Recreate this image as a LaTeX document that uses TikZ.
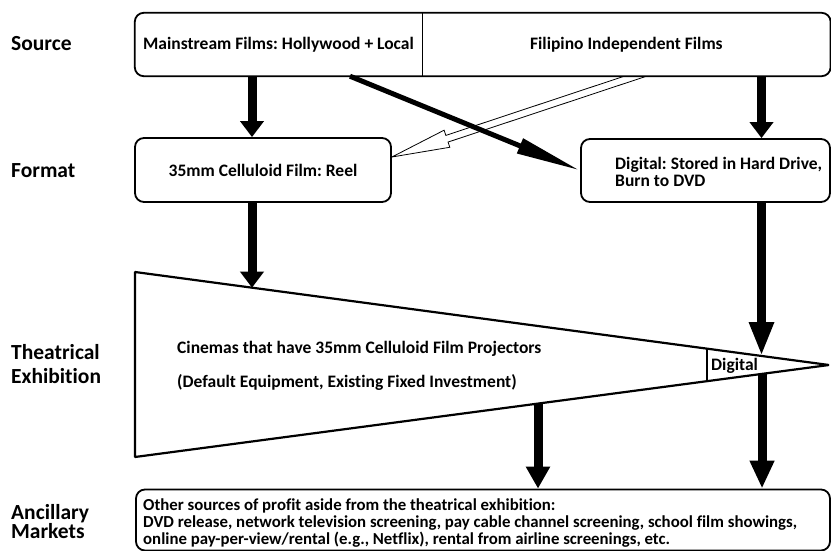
\documentclass[tikz,border=0pt]{standalone}
\usepackage{fontspec}
\setmainfont{Carlito}[Ligatures=NoCommon]
\usepackage{tikz}
\usetikzlibrary{positioning,calc,arrows.meta,backgrounds}
\frenchspacing

\tikzset{
  stage/.style={font=\fontsize{21.5}{24}\selectfont\bfseries, anchor=base west, inner sep=0pt, align=left},
  boxtext/.style={font=\fontsize{17.5}{17.5}\selectfont\bfseries},
  roundbox/.style={draw, line width=1.8pt, rounded corners=9pt},
  fatarrow/.style={line width=9pt, -{Triangle[width=23pt,length=#1]}},
  fatarrow/.default=16pt,
}

\begin{document}
\begin{tikzpicture}[x=1pt,y=-1pt]
    \useasboundingbox (0,0) rectangle (831,551);

    % stage labels (base = last line)
    \node[stage] (source) at (11,51) {Source};
    \node[stage] (format) at (11,177) {Format};
    \node[stage] (theatrical) at (11,383) {Theatrical\\Exhibition};
    \node[stage, font=\fontsize{21.5}{19.5}\selectfont\bfseries] (ancillary) at (11,538.5) {Ancillary\\Markets};

    % source row
    \node[boxtext, minimum width=287pt, minimum height=63pt, inner sep=0pt] (mainstream) at (278.5,44.5) {Mainstream Films: Hollywood + Local};
    \node[boxtext, minimum width=408pt, minimum height=63pt, inner sep=0pt, right=0pt of mainstream] (indie) {Filipino Independent Films};
    \draw[roundbox] (mainstream.north west) rectangle (indie.south east);
    \draw[line width=1.4pt] (mainstream.north east) -- (mainstream.south east);

    % format row
    \node[roundbox, boxtext, fill=white, minimum width=256pt, minimum height=64pt] (reel) at (263,170) {35mm Celluloid Film: Reel};
    \node[roundbox, fill=white, minimum width=249pt, minimum height=63pt] (digital) at (705.5,170.5) {};
    \node[boxtext, align=left, anchor=base west, inner sep=0pt] (digitaltext) at (615,186.7) {Digital: Stored in Hard Drive,\\Burn to DVD};

    % hollow arrow, under the boxes
    \coordinate (hs) at ([xshift=9pt]indie.south);
    \coordinate (ht) at ([yshift=13pt]reel.east);
    \coordinate (hs0) at ($(hs)!-12pt!(ht)$);
    \coordinate (hb) at ($(ht)!58pt!(hs)$);
    \begin{scope}[on background layer]
        \draw[line width=0.8pt, fill=white] ($(hs0)!3.5pt!90:(ht)$) -- ($(hb)!3.5pt!90:(ht)$)
            -- ($(hb)!9pt!90:(ht)$) -- (ht) -- ($(hb)!9pt!-90:(ht)$)
            -- ($(hb)!3.5pt!-90:(ht)$) -- ($(hs0)!3.5pt!-90:(ht)$);
        \fill[white, rounded corners=9pt] (mainstream.north west) rectangle (indie.south east);
    \end{scope}

    % cinemas
    \coordinate (tl) at (135,272);
    \coordinate (bl) at (135,457);
    \coordinate (tip) at (829,365);
    \draw[line width=2.2pt, line join=bevel] (tl) -- (tip) -- (bl) -- cycle;
    \draw[line width=1.4pt] ($(tl)!0.824!(tip)$) -- ($(bl)!0.824!(tip)$);
    \node[boxtext, anchor=base west, inner sep=0pt] (cinemas) at (177,353) {Cinemas that have 35mm Celluloid Film Projectors};
    \node[boxtext, anchor=base west, inner sep=0pt] (cinemanote) at (177,387) {(Default Equipment, Existing Fixed Investment)};
    \node[boxtext, anchor=base west, inner sep=0pt] (digitalcinema) at (711,370) {Digital};

    % ancillary markets
    \node[roundbox, minimum width=694pt, minimum height=61pt] (ancbox) at (483,520) {};
    \node[boxtext, font=\fontsize{16.8}{17}\selectfont\bfseries, align=left, anchor=base west, inner sep=0pt] (anctext) at (143,544.5)
        {Other sources of profit aside from the theatrical exhibition:\\
         DVD release, network television screening, pay cable channel screening, school film showings,\\
         online pay-per-view/rental (e.g., Netflix), rental from airline screenings, etc.};

    % arrows
    \coordinate (e1) at ($(tl)!0.1686!(tip)$);
    \coordinate (e2) at ($(tl)!0.9035!(tip)$);
    \coordinate (e3) at ($(bl)!0.9035!(tip)$);
    \coordinate (e4) at ($(bl)!0.5807!(tip)$);
    \draw[fatarrow] ([xshift=-11pt]reel.north |- mainstream.south) -- ([xshift=-11pt]reel.north);
    \draw[fatarrow] ([xshift=56pt]digital.north |- indie.south) -- ([xshift=56pt]digital.north);
    \draw[fatarrow] ([xshift=-11pt]reel.south) -- ([xshift=-11pt]reel.south |- e1);
    \draw[fatarrow=34pt] ([xshift=56pt]digital.south) -- ([xshift=56pt]digital.south |- e2);
    \draw[fatarrow=28pt] (e3) -- (e3 |- ancbox.north);
    \draw[fatarrow=22pt] (e4) -- (e4 |- ancbox.north);
    \draw[line width=5pt, -{Triangle[width=15pt,length=65pt]}] ([xshift=71.5pt]mainstream.south) -- (digital.west);
\end{tikzpicture}
\end{document}
